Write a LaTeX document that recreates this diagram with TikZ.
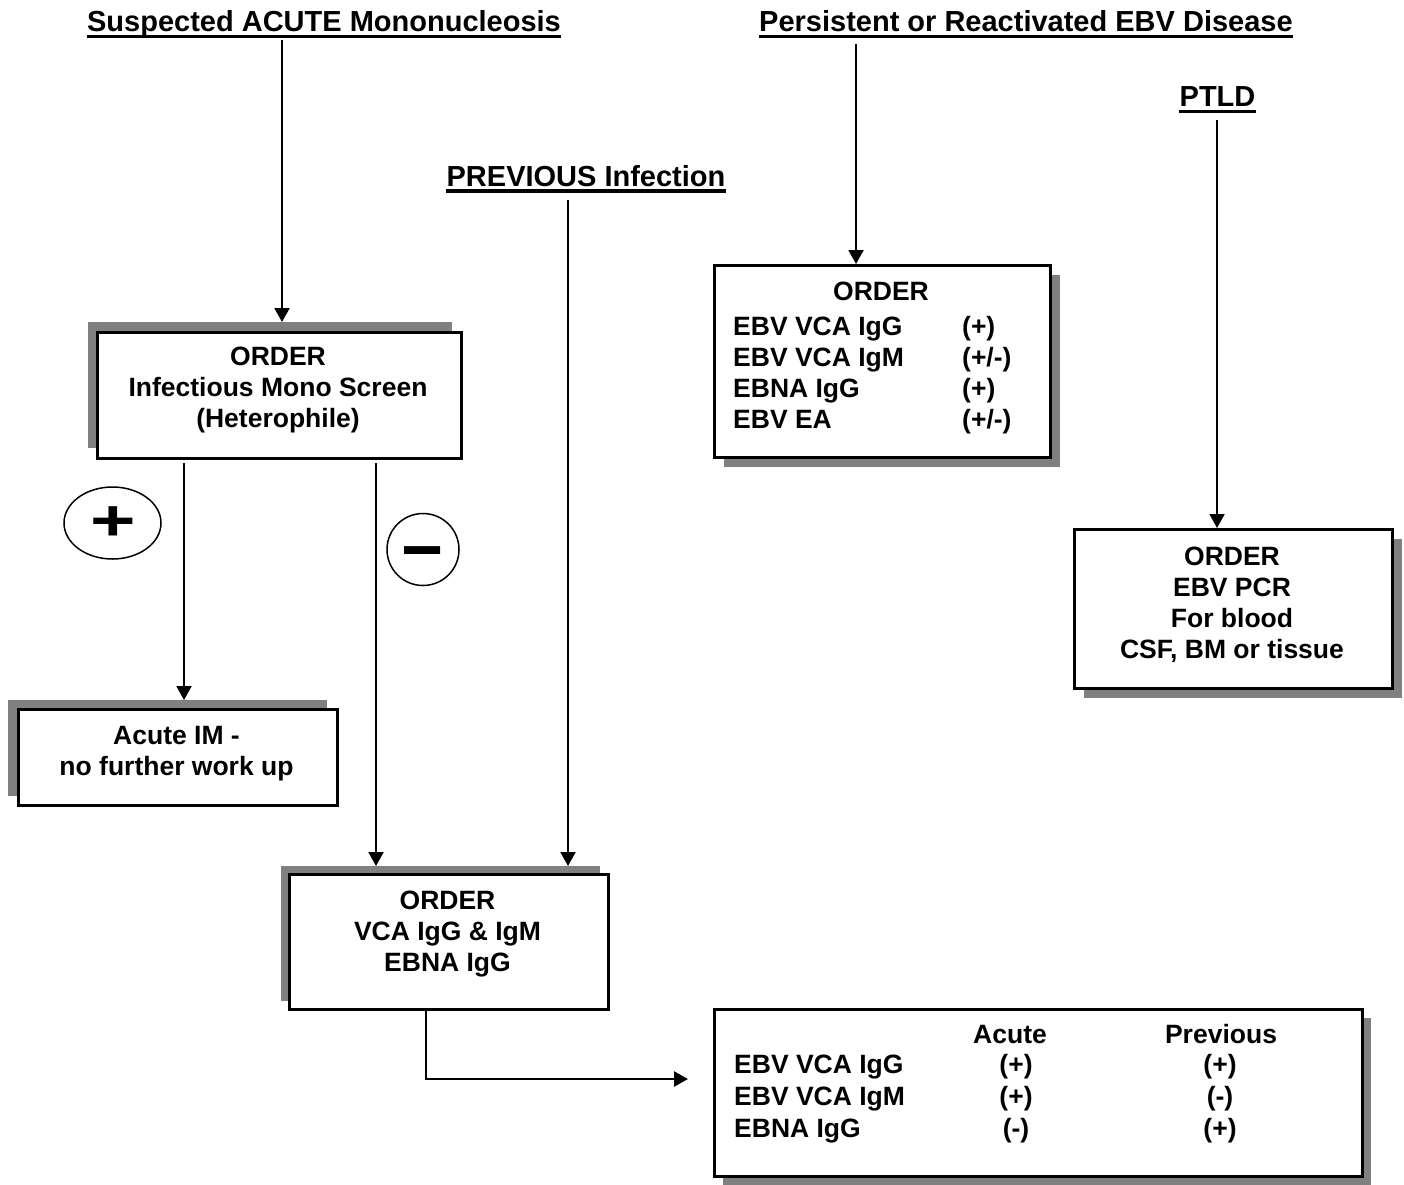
\documentclass[tikz,border=0pt]{standalone}
\usepackage{fontspec}
\setmainfont{Liberation Sans}
\usetikzlibrary{arrows.meta,shapes.geometric}
\definecolor{shd}{RGB}{128,128,128}
\begin{document}
\begin{tikzpicture}[x=1pt,y=-1pt,
  arr/.style={line width=2pt,-{Triangle[length=14pt,width=15pt]}},
  box/.style={draw,line width=2.5pt,fill=white,inner sep=0pt,anchor=north west},
  shadowbox/.style={fill=shd,inner sep=0pt,anchor=north west},
  txt/.style={font=\fontsize{26.5}{31}\selectfont\bfseries,inner sep=0pt,anchor=base},
  ttl/.style={font=\fontsize{29}{34}\selectfont\bfseries,inner sep=0pt,anchor=base},
  uline/.style={line width=3.5pt}
]
\useasboundingbox[fill=white] (0,0) rectangle (1404,1184);

% titles
\node[ttl] (t1) at (324,31.7) {Suspected ACUTE Mononucleosis};
\draw[uline] ([yshift=-5pt]t1.base west) -- ([yshift=-5pt]t1.base east);
\node[ttl] (t2) at (1026,31.7) {Persistent or Reactivated EBV Disease};
\draw[uline] ([yshift=-5pt]t2.base west) -- ([yshift=-5pt]t2.base east);
\node[ttl] (t3) at (1217.5,106.7) {PTLD};
\draw[uline] ([yshift=-5pt]t3.base west) -- ([yshift=-5pt]t3.base east);
\node[ttl] (t4) at (586,186) {PREVIOUS Infection};
\draw[uline] ([yshift=-5pt]t4.base west) -- ([yshift=-5pt]t4.base east);

% boxes with shadows
\node[shadowbox,minimum width=364pt,minimum height=126pt] (monoS) at (88,322) {};
\node[box,minimum width=364pt,minimum height=126pt] (mono) at (96,331) {};
\node[txt] (monoT) at (278,365) {\begin{tabular}[t]{@{}c@{}}ORDER\\Infectious Mono Screen\\(Heterophile)\end{tabular}};

\node[shadowbox,minimum width=319pt,minimum height=96pt] (acuteS) at (8,700) {};
\node[box,minimum width=319pt,minimum height=96pt] (acute) at (17,708) {};
\node[txt] (acuteT) at (176.5,744) {\begin{tabular}[t]{@{}c@{}}Acute IM -\\no further work up\end{tabular}};

\node[shadowbox,minimum width=319pt,minimum height=135pt] (vcaS) at (281,866) {};
\node[box,minimum width=319pt,minimum height=135pt] (vca) at (288,873) {};
\node[txt] (vcaT) at (447.5,909) {\begin{tabular}[t]{@{}c@{}}ORDER\\VCA IgG \& IgM\\EBNA IgG\end{tabular}};

\node[shadowbox,minimum width=336pt,minimum height=192pt] (persS) at (724,275) {};
\node[box,minimum width=336pt,minimum height=192pt] (pers) at (713,264) {};
\node[txt] (persH) at (881,300) {ORDER};
\node[txt,anchor=base west] (persT) at (733,335) {\begin{tabular}[t]{@{}p{229pt}@{}l@{}}EBV VCA IgG & (+)\\EBV VCA IgM & (+/-)\\EBNA IgG & (+)\\EBV EA & (+/-)\end{tabular}};

\node[shadowbox,minimum width=318pt,minimum height=159pt] (pcrS) at (1084,539) {};
\node[box,minimum width=318pt,minimum height=159pt] (pcr) at (1073,528) {};
\node[txt] (pcrT) at (1232,565) {\begin{tabular}[t]{@{}c@{}}ORDER\\EBV PCR\\For blood\\CSF, BM or tissue\end{tabular}};

\node[shadowbox,minimum width=648pt,minimum height=167pt] (tabS) at (723,1018) {};
\node[box,minimum width=648pt,minimum height=167pt] (tab) at (713,1008) {};
\node[txt] (hAc) at (1010,1043) {Acute};
\node[txt] (hPr) at (1221,1043) {Previous};
\node[txt,anchor=base west,font=\fontsize{26.5}{32}\selectfont\bfseries] (tabL) at (734,1073) {\begin{tabular}[t]{@{}l@{}}EBV VCA IgG\\EBV VCA IgM\\EBNA IgG\end{tabular}};
\node[txt,font=\fontsize{26.5}{32}\selectfont\bfseries] (tabA) at (1016,1073) {\begin{tabular}[t]{@{}c@{}}(+)\\(+)\\(-)\end{tabular}};
\node[txt,font=\fontsize{26.5}{32}\selectfont\bfseries] (tabP) at (1220,1073) {\begin{tabular}[t]{@{}c@{}}(+)\\(-)\\(+)\end{tabular}};

% plus / minus markers
\node[draw,ellipse,line width=1.5pt,minimum width=97pt,minimum height=72pt,inner sep=0pt] (plus) at (112.5,523) {};
\node[inner sep=0pt,font=\fontsize{78}{80}\selectfont\bfseries] (plusT) at (113.5,524) {\scalebox{1}[0.74]{+}};
\node[draw,circle,line width=1.5pt,minimum size=72pt,inner sep=0pt] (minus) at (423,549.5) {};
\node[inner sep=0pt,font=\fontsize{72}{74}\selectfont\bfseries] (minusT) at (423,561) {−};

% connectors
\coordinate (a1s) at (282,40);
\draw[arr] (a1s) -- (a1s |- monoS.north);
\coordinate (a2s) at (856,44);
\draw[arr] (a2s) -- (a2s |- pers.north);
\coordinate (a3s) at (1217,120);
\draw[arr] (a3s) -- (a3s |- pcr.north);
\coordinate (a4s) at (568,200);
\draw[arr] (a4s) -- (a4s |- vcaS.north);
\coordinate (a5s) at (184,463);
\draw[arr] (a5s) -- (a5s |- acuteS.north);
\coordinate (a6s) at (376,463);
\draw[arr] (a6s) -- (a6s |- vcaS.north);
\coordinate (e1) at (426,1008);
\coordinate (e2) at (688,1079);
\draw[arr,line width=2.5pt] (e1) |- (e2);
\end{tikzpicture}
\end{document}
